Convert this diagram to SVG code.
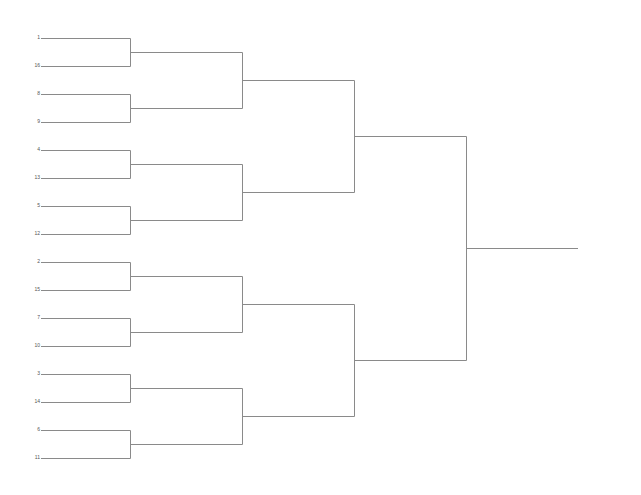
<svg xmlns="http://www.w3.org/2000/svg" width="641" height="495" viewBox="0 0 641 495">
<style>
.c{fill:none;stroke:#8a8a8a;stroke-width:1}
text{font-family:"Liberation Sans",Arial,sans-serif;font-size:5px;fill:#555;text-anchor:end;dominant-baseline:middle}
</style>
<rect width="641" height="495" fill="#fff"/>
<g id="labels">
<text x="40" y="38">1</text><text x="40" y="66">16</text>
<text x="40" y="94">8</text><text x="40" y="122">9</text>
<text x="40" y="150">4</text><text x="40" y="178">13</text>
<text x="40" y="206">5</text><text x="40" y="234">12</text>
<text x="40" y="262">2</text><text x="40" y="290">15</text>
<text x="40" y="318">7</text><text x="40" y="346">10</text>
<text x="40" y="374">3</text><text x="40" y="402">14</text>
<text x="40" y="430">6</text><text x="40" y="458">11</text>
</g>
<g id="connectors" class="c">
<path d="M41 38.5H130.5V66.5H41M41 94.5H130.5V122.5H41M41 150.5H130.5V178.5H41M41 206.5H130.5V234.5H41M41 262.5H130.5V290.5H41M41 318.5H130.5V346.5H41M41 374.5H130.5V402.5H41M41 430.5H130.5V458.5H41"/>
<path d="M130.5 52.5H242.5V108.5H130.5M130.5 164.5H242.5V220.5H130.5M130.5 276.5H242.5V332.5H130.5M130.5 388.5H242.5V444.5H130.5"/>
<path d="M242.5 80.5H354.5V192.5H242.5M242.5 304.5H354.5V416.5H242.5"/>
<path d="M354.5 136.5H466.5V360.5H354.5"/>
<path d="M466.5 248.5H578"/>
</g>
</svg>
